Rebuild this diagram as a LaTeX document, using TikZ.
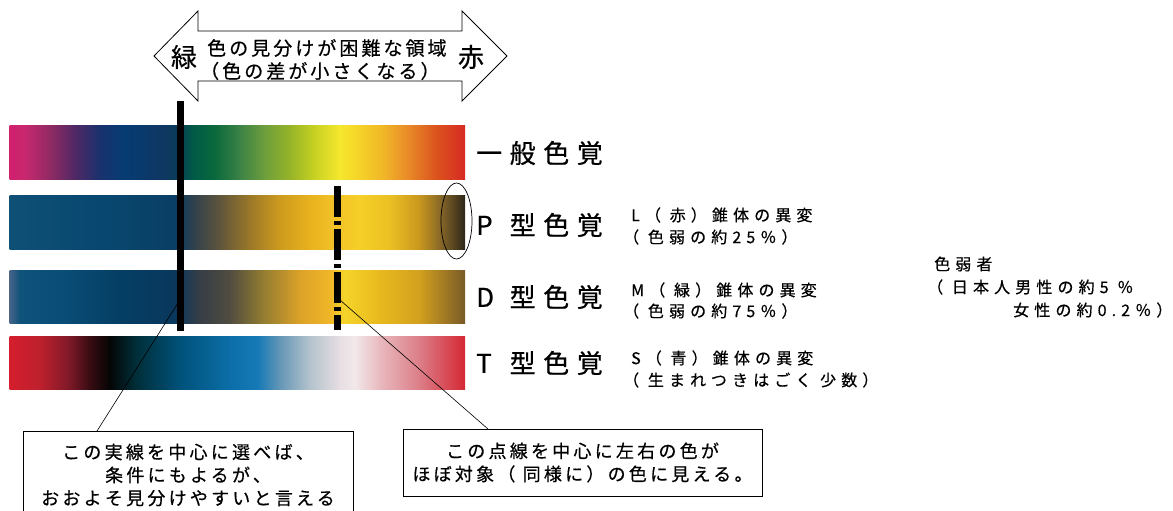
\documentclass[tikz,border=0pt]{standalone}
\usepackage{fontspec}
\newfontfamily\jp[FakeBold=0.5]{Noto Sans CJK JP}
\newfontfamily\jpA[LetterSpace=16,FakeBold=0.5]{Noto Sans CJK JP}
\newfontfamily\jpB[LetterSpace=29,FakeBold=0.6]{Noto Sans CJK JP}
\newfontfamily\jpC[LetterSpace=32,FakeBold=0.5]{Noto Sans CJK JP}
\newfontfamily\jpD[LetterSpace=18,FakeBold=0.5]{Noto Sans CJK JP}

\newcommand\gradbar[3]{%
  \gdef\gbpx{}%
  \foreach \cxx/\crr/\cgg/\cbb in {#3}{%
    \ifx\gbpx\empty\else
      \definecolor{gbA}{RGB}{\gbpr,\gbpg,\gbpb}%
      \definecolor{gbB}{RGB}{\crr,\cgg,\cbb}%
      \shade[left color=gbA,right color=gbB] (\gbpx-0.4,#1) rectangle (\cxx,#2);%
    \fi
    \xdef\gbpx{\cxx}\xdef\gbpr{\crr}\xdef\gbpg{\cgg}\xdef\gbpb{\cbb}%
  }%
}

\tikzset{
  big/.style={inner sep=0pt, anchor=west, font=\jpB\fontsize{26}{30}\selectfont},
  small/.style={inner sep=0pt, anchor=west, font=\jpC\fontsize{16}{19}\selectfont},
  arrtxt/.style={inner sep=0pt, anchor=west, font=\jpA\fontsize{19}{23}\selectfont},
  cjkbig/.style={inner sep=0pt, font=\jp\fontsize{26}{30}\selectfont},
  callout/.style={draw, line width=0.8pt, inner sep=0pt, align=center,
    font=\jpD\fontsize{18}{23}\selectfont},
  conn/.style={line width=0.6pt},
}

\begin{document}
\begin{tikzpicture}[x=1pt,y=-1pt]
\useasboundingbox (0,0) rectangle (1173,511);

% double arrow
\draw[line width=0.8pt, fill=white] (154,56) -- (198,11) -- (198,31) -- (462,31) -- (462,11)
  -- (507,56) -- (462,101) -- (462,81) -- (198,81) -- (198,101) -- cycle;
\node[cjkbig] (green) at (184,57) {緑};
\node[cjkbig] (red) at (471,57) {赤};
\node[arrtxt] (arr1) at (207,48) {色の見分けが困難な領域};
\node[arrtxt] (arr2) at (200,71) {（色の差が小さくなる）};

% bars
\gradbar{125}{179}{10/208/32/110, 25/200/40/110, 50/145/42/100, 75/80/40/100, 100/25/50/110,
  125/5/60/115, 160/15/55/100, 177/10/60/90, 193/0/90/70, 215/10/105/60, 240/60/130/70,
  265/110/158/60, 290/150/180/40, 315/200/210/35, 340/245/232/45, 360/245/210/40,
  385/240/180/40, 410/232/135/40, 435/220/85/30, 465/215/42/35}
\gradbar{195}{249}{10/15/80/118, 100/8/72/112, 175/10/62/100, 195/50/65/75, 220/95/85/60,
  250/155/120/40, 280/205/155/30, 310/232/178/30, 337/243/195/40, 360/245/208/40,
  390/235/192/35, 420/200/150/30, 442/130/100/40, 465/45/38/25}
\gradbar{270}{323}{10/70/100/135, 20/15/82/122, 60/10/78/120, 120/5/62/100, 175/10/55/92,
  200/55/62/70, 230/80/76/64, 260/140/120/50, 300/220/162/40, 330/240/182/40,
  345/245/212/42, 380/232/185/30, 420/210/160/30, 465/120/90/40}
\gradbar{336}{389}{10/212/30/45, 40/190/32/45, 70/125/25/40, 90/55/12/18, 110/5/5/5,
  135/0/45/55, 180/0/82/122, 230/12/110/168, 258/22/122/182, 280/100/150/182,
  310/180/195/205, 340/230/222/226, 355/242/232/234, 380/232/185/190, 420/220/125/135,
  465/212/40/52}

% vertical lines
\fill[black] (177,101) rectangle (184,331);
\draw[line width=7pt, dash pattern=on 31pt off 4pt on 4pt off 4pt] (337.5,186) -- (337.5,330);

% ellipse
\draw[line width=0.7pt] (456.5,221) ellipse [x radius=15.5pt, y radius=38pt];

% labels
\node[big] (n0) at (476,153) {一般色覚};
\node[big] (nP) at (476,225) {\makebox[33.5pt][l]{P}型色覚};
\node[big] (nD) at (476,297) {\makebox[33.5pt][l]{D}型色覚};
\node[big] (nT) at (476,363) {\makebox[33.5pt][l]{T}型色覚};

\node[small] (l1) at (631,215) {L（ 赤）錐体の異変};
\node[small] (l2) at (623,237) {（ 色弱の約25％）};
\node[small] (m1) at (631,290) {M（ 緑）錐体の異変};
\node[small] (m2) at (623,311) {（ 色弱の約75％）};
\node[small] (s1) at (631,358) {S（ 青）錐体の異変};
\node[small] (s2) at (623,380) {（ 生まれつきはごく 少数）};

\node[small] (w1) at (934,264) {色弱者};
\node[small] (w2) at (927,287) {（ 日本人男性の約5 ％};
\node[small] (w3) at (1013,310) {女性の約0.2％）};

% callout boxes
\node[callout, minimum width=330pt, minimum height=88pt] (lbox) at (188,475)
  {この実線を中心に選べば、\\条件にもよるが、\\おおよそ見分けやすいと言える};
\node[callout, minimum width=359pt, minimum height=67pt] (rbox) at (582.5,462.5)
  {この点線を中心に左右の色が\\ほぼ対象（ 同様に）の色に見える。};

\coordinate (solidpt) at (178,303);
\coordinate (dashpt) at (340,300);
\coordinate (lboxpt) at (97,431);
\coordinate (rboxpt) at (488,429);
\draw[conn] (solidpt) -- (lboxpt);
\draw[conn] (dashpt) -- (rboxpt);
\end{tikzpicture}
\end{document}
